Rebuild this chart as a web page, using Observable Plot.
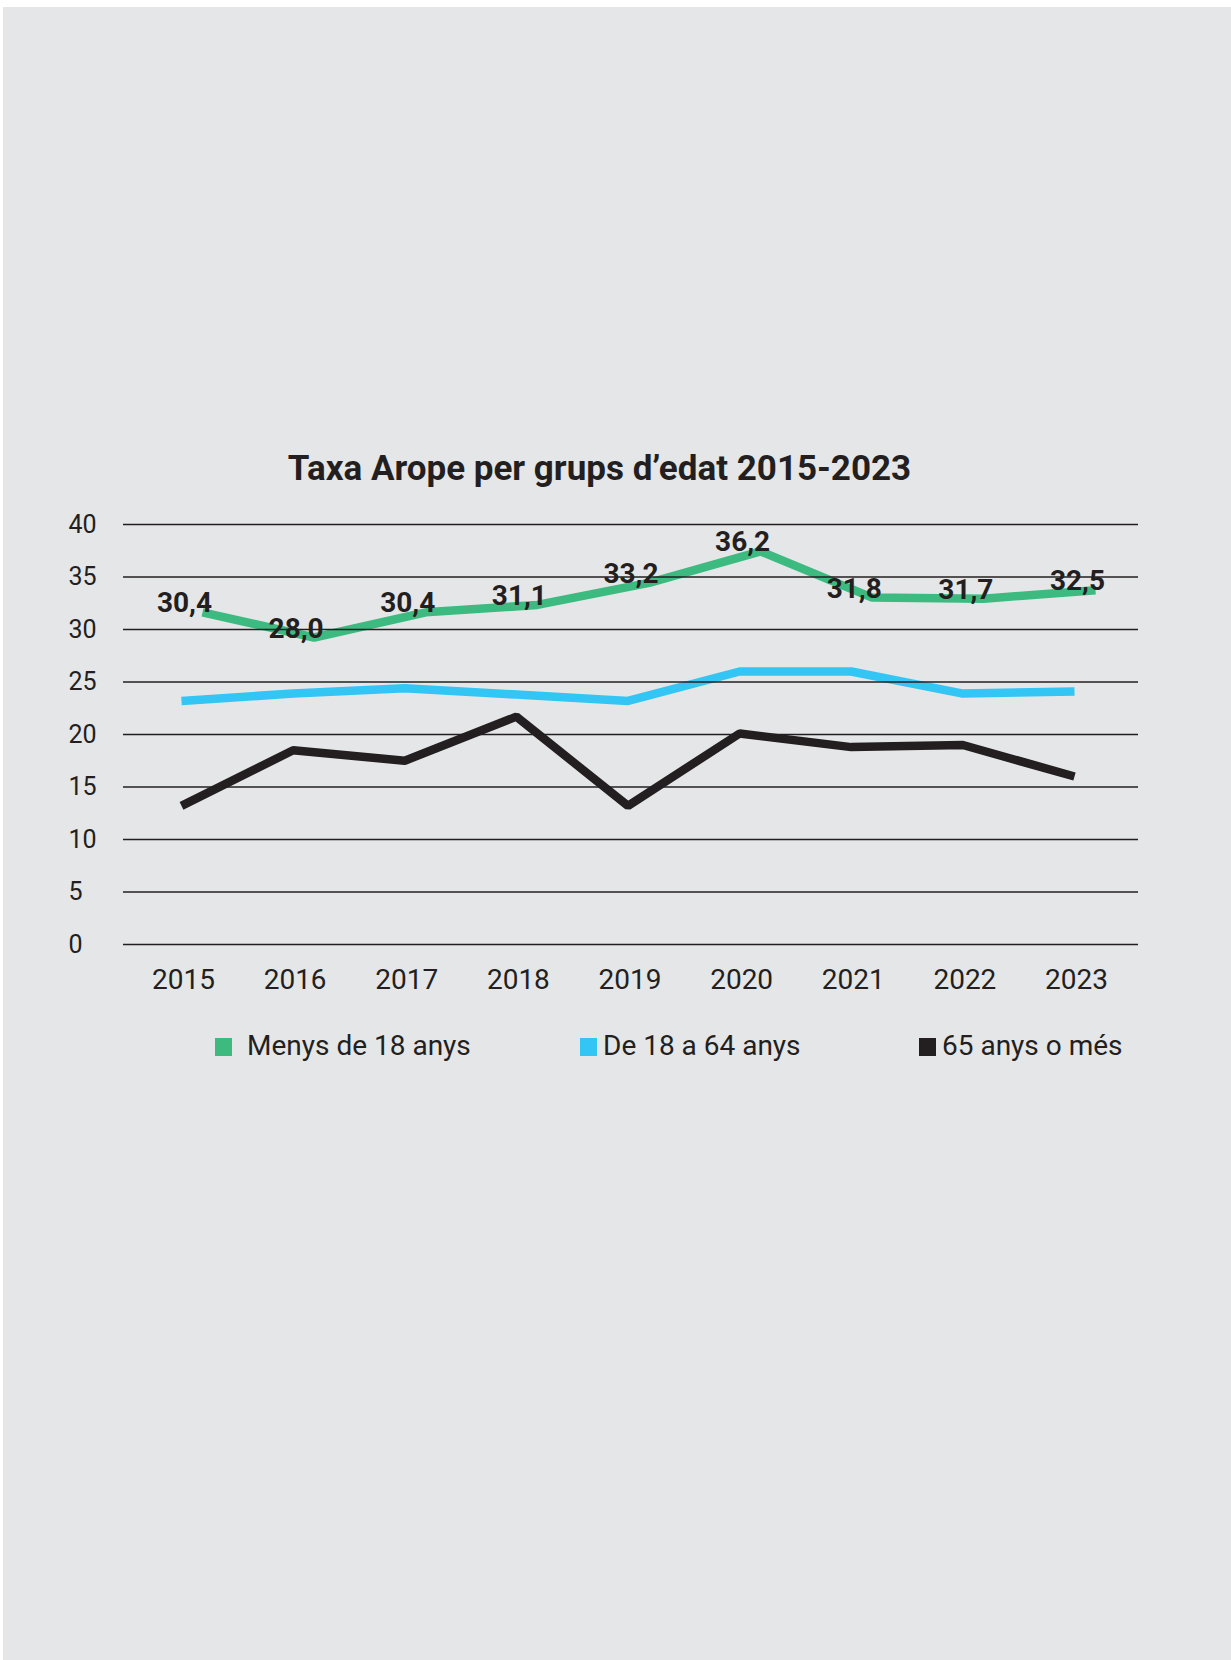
<!DOCTYPE html>
<html><head><meta charset="utf-8">
<script src="https://cdn.jsdelivr.net/npm/d3@7"></script>
<script src="https://cdn.jsdelivr.net/npm/@observablehq/plot@0.6"></script>
<style>
html,body{margin:0;padding:0;background:#fff;}
body{width:1231px;height:1660px;position:relative;overflow:hidden;font-family:Roboto,sans-serif;color:#231f20;}
#panel{position:absolute;left:3px;top:7px;width:1228px;height:1653px;background:#e5e6e8;}
#title{position:absolute;left:0;width:1199px;top:451px;text-align:center;font-weight:700;font-size:35px;line-height:35px;white-space:nowrap;}
#chart{position:absolute;left:0;top:0;}
.sw{position:absolute;top:1038px;width:17px;height:18px;}
.lt{position:absolute;top:1032px;font-size:28px;line-height:28px;white-space:nowrap;}
</style></head><body>
<div id="panel"></div>
<div id="title">Taxa Arope per grups d’edat 2015-2023</div>
<div id="chart"></div>
<div id="legend"></div>
<script>
// ---- data ----
const years = [2015, 2016, 2017, 2018, 2019, 2020, 2021, 2022, 2023];
const seriesNames = ["Menys de 18 anys", "De 18 a 64 anys", "65 anys o més"];
const colors = ["#3dba80", "#33c5f3", "#231f20"];
const menys18 = [30.4, 28.0, 30.4, 31.1, 33.2, 36.2, 31.8, 31.7, 32.5];
const de18a64 = [23.2, 23.9, 24.4, 23.8, 23.2, 26.0, 26.0, 23.9, 24.1];
const mes65 = [13.2, 18.5, 17.5, 21.7, 13.2, 20.1, 18.8, 19.0, 16.0];
const yTicks = [0, 5, 10, 15, 20, 25, 30, 35, 40];

const toRows = (vals, serie) => years.map((year, i) => ({year, value: vals[i], serie}));
const green = toRows(menys18, seriesNames[0]);
const blue = toRows(de18a64, seriesNames[1]);
const black = toRows(mes65, seriesNames[2]);

const lineStyle = {x: "year", y: "value", strokeWidth: 8.5, strokeLinejoin: "miter", strokeLinecap: "butt"};
const fmt = v => v.toFixed(1).replace(".", ",");

const plot = Plot.plot({
  width: 1231,
  height: 1010,
  marginTop: 524,
  marginBottom: 66,
  marginLeft: 123,
  marginRight: 93,
  x: {type: "linear", domain: [2015, 2023], insetLeft: 58, insetRight: 64},
  y: {domain: [0, 40]},
  style: {background: "transparent", fontFamily: "Roboto, sans-serif", color: "#231f20", overflow: "visible"},
  marks: [
    Plot.line(black, {...lineStyle, stroke: colors[2]}),
    Plot.line(blue, {...lineStyle, stroke: colors[1]}),
    Plot.line(green, {...lineStyle, stroke: colors[0], dx: 21, dy: -13}),
    Plot.ruleY(yTicks, {stroke: "#231f20", strokeWidth: 1.7}),
    Plot.axisY(yTicks, {tickSize: 0, tickPadding: 55, textAnchor: "start", fontSize: 25, label: null, fill: "#231f20"}),
    Plot.axisX(years, {tickSize: 0, tickPadding: 25, fontSize: 28, tickFormat: d => String(d), label: null, dx: 2, fill: "#231f20"}),
    Plot.text(green, {x: "year", y: "value", text: d => fmt(d.value), dx: 3, dy: -13, lineAnchor: "bottom",
      fontWeight: 700, fontSize: 28, fill: "#231f20"})
  ]
});
document.getElementById("chart").appendChild(plot);

// legend
const legendLayout = [{sw: 215, tx: 247}, {sw: 580, tx: 603}, {sw: 919, tx: 942}];
const legend = document.getElementById("legend");
seriesNames.forEach((name, i) => {
  const s = document.createElement("div");
  s.className = "sw"; s.style.left = legendLayout[i].sw + "px"; s.style.background = colors[i];
  const t = document.createElement("div");
  t.className = "lt"; t.style.left = legendLayout[i].tx + "px"; t.textContent = name;
  legend.appendChild(s); legend.appendChild(t);
});
</script>
</body></html>
